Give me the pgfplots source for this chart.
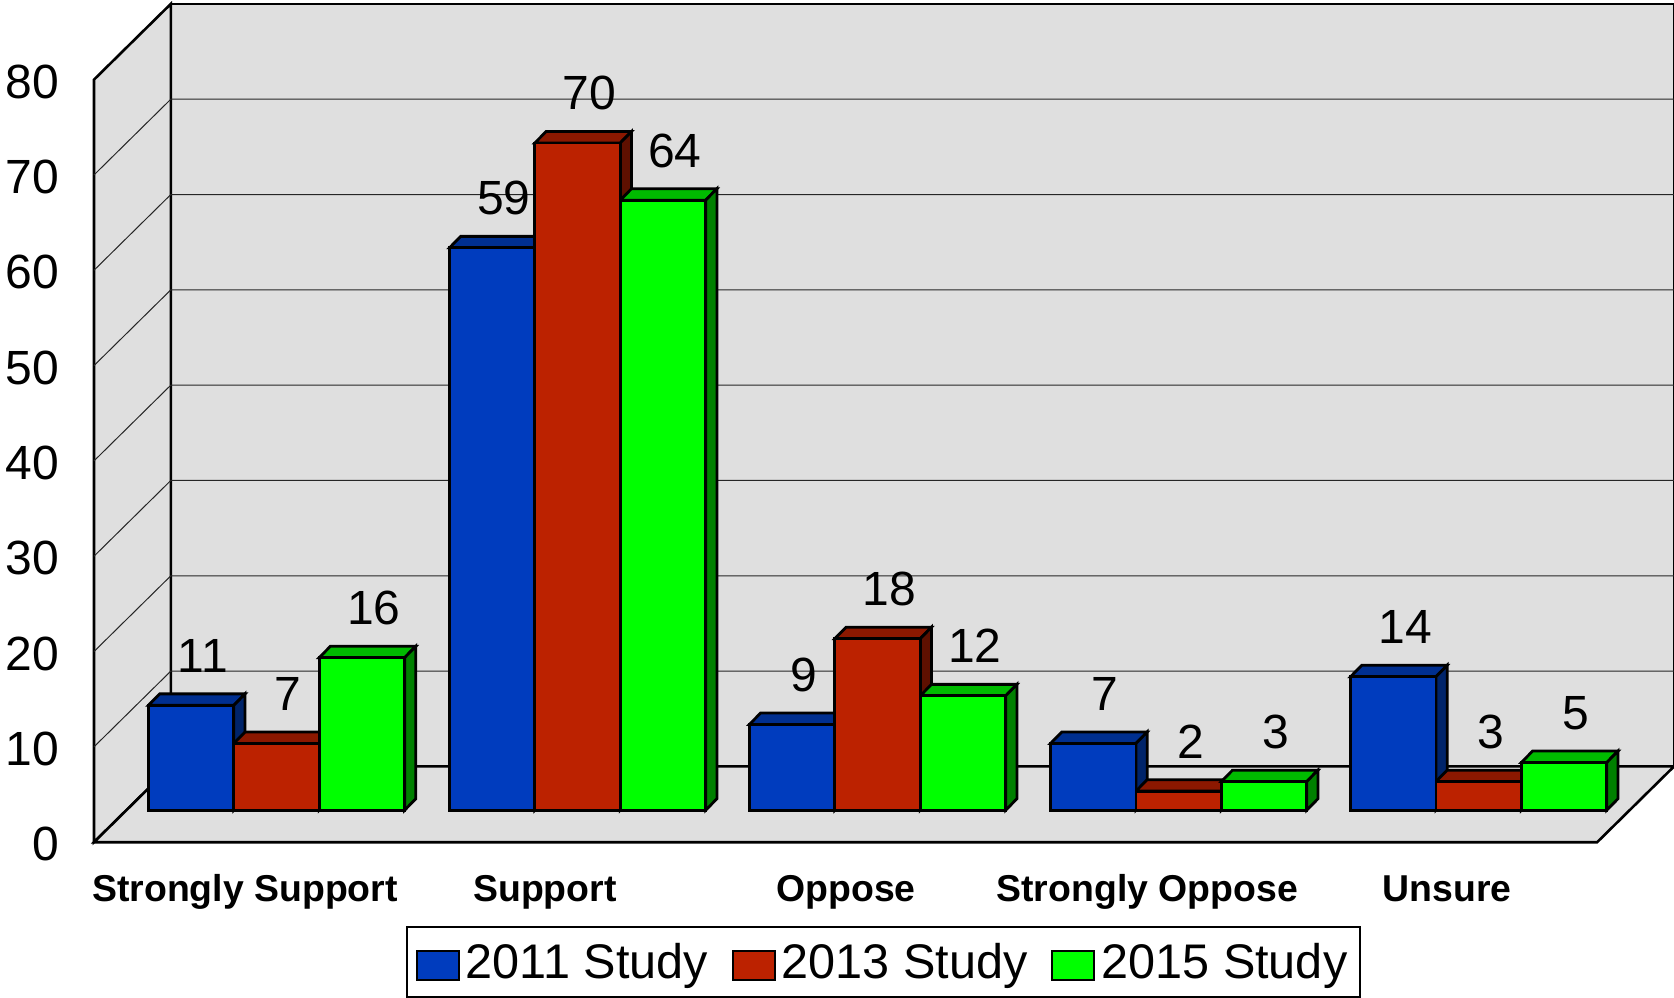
\documentclass[border=0pt]{standalone}
\usepackage{fontspec}
\setmainfont{Liberation Sans}
\usepackage{pgfplots}
\pgfplotsset{compat=1.18}
\definecolor{wallgray}{HTML}{DFDFDF}
\definecolor{bluefront}{HTML}{003CBE}
\definecolor{bluetop}{HTML}{002F90}
\definecolor{blueside}{HTML}{00246A}
\definecolor{redfront}{HTML}{BC2200}
\definecolor{redtop}{HTML}{8C1800}
\definecolor{redside}{HTML}{5E1000}
\definecolor{greenfront}{HTML}{00FF00}
\definecolor{greentop}{HTML}{00BB00}
\definecolor{greenside}{HTML}{008000}
% top and right-hand faces of one bar: left edge, value, name of the colour family
\newcommand\depthfaces[3]{%
  \pgfmathsetmacro\xa{#1}%
  \pgfmathsetmacro\xb{#1+80}%
  \pgfmathsetmacro\xc{#1+10.5}%
  \pgfmathsetmacro\xd{#1+90.5}%
  \pgfmathsetmacro\yb{#2+1.2}%
  \edef\tmp{\noexpand\addplot[forget plot,draw=black,line width=1.4pt,fill=#3top] coordinates {(\xa,#2)(\xc,\yb)(\xd,\yb)(\xb,#2)} -- cycle;
  \noexpand\addplot[forget plot,draw=black,line width=1.4pt,fill=#3side] coordinates {(\xb,0)(\xd,1.2)(\xd,\yb)(\xb,#2)} -- cycle;}%
  \tmp
}
\pgfplotsset{
  frontbar/.style={
    ybar, bar width=80, bar shift=0pt, fill=#1, draw=black, line width=1.4pt,
    nodes near coords,
    every node near coord/.append style={font=\fontsize{24}{25}\selectfont, text=black, anchor=center, xshift=5.9pt, yshift=24.8pt},
    legend image code/.code={\draw[fill=#1,draw=black,line width=1.1pt] (0pt,-9pt) rectangle (21pt,5.4pt);}
  }
}
\begin{document}
\begin{tikzpicture}
\path[use as bounding box] (0,0) rectangle (837pt,498.5pt);
\begin{axis}[
  at={(0,0)}, anchor=south west,
  scale only axis, width=837pt, height=498.5pt,
  xmin=0, xmax=1568, ymin=-19.6, ymax=85,
  clip=false,
  axis line style={draw=none},
  major tick length=0pt,
  /pgf/number format/assume math mode=true,
  xtick={229.5,510.5,792.5,1074.5,1355.5},
  xticklabels={Strongly Support,Support,Oppose,Strongly Oppose,Unsure},
  xticklabel style={font=\fontsize{18.7}{20}\selectfont\bfseries, anchor=base, yshift=48pt},
  ytick={-3.36,6.64,16.64,26.64,36.64,46.64,56.64,66.64,76.64},
  yticklabels={0,10,20,30,40,50,60,70,80},
  yticklabel style={font=\fontsize{24}{25}\selectfont, anchor=east, xshift=33.1pt, yshift=-1pt},
  legend columns=3,
  legend style={at={(axis cs:827.5,-19.7)}, anchor=south, draw=black, line width=1pt, fill=white,
    font=\fontsize{24.3}{26}\selectfont, inner xsep=4.4pt, inner ysep=5.9pt,
    /tikz/every odd column/.append style={column sep=1pt},
    /tikz/every even column/.append style={column sep=9.8pt}},
  legend cell align=left,
]
% walls and floor
\addplot[forget plot,fill=wallgray,draw=black,line width=1.3pt] coordinates {(160,84.59)(1568,84.59)(1568,4.59)(160,4.59)} -- cycle;
\addplot[forget plot,fill=wallgray,draw=black,line width=1.3pt] coordinates {(88,76.64)(160,84.59)(160,4.59)(88,-3.36)} -- cycle;
\addplot[forget plot,fill=wallgray,draw=black,line width=1.3pt] coordinates {(160,4.59)(1568,4.59)(1496,-3.36)(88,-3.36)} -- cycle;
% gridlines on the back wall and the left wall
\addplot[forget plot,draw=black!85,line width=0.5pt] coordinates {(88,6.64)(160,14.59)(1568,14.59)};
\addplot[forget plot,draw=black!85,line width=0.5pt] coordinates {(88,16.64)(160,24.59)(1568,24.59)};
\addplot[forget plot,draw=black!85,line width=0.5pt] coordinates {(88,26.64)(160,34.59)(1568,34.59)};
\addplot[forget plot,draw=black!85,line width=0.5pt] coordinates {(88,36.64)(160,44.59)(1568,44.59)};
\addplot[forget plot,draw=black!85,line width=0.5pt] coordinates {(88,46.64)(160,54.59)(1568,54.59)};
\addplot[forget plot,draw=black!85,line width=0.5pt] coordinates {(88,56.64)(160,64.59)(1568,64.59)};
\addplot[forget plot,draw=black!85,line width=0.5pt] coordinates {(88,66.64)(160,74.59)(1568,74.59)};
% depth faces
\depthfaces{139}{11}{blue}
\depthfaces{219}{7}{red}
\depthfaces{299}{16}{green}
\depthfaces{421}{59}{blue}
\depthfaces{501}{70}{red}
\depthfaces{581}{64}{green}
\depthfaces{702}{9}{blue}
\depthfaces{782}{18}{red}
\depthfaces{862}{12}{green}
\depthfaces{984}{7}{blue}
\depthfaces{1064}{2}{red}
\depthfaces{1144}{3}{green}
\depthfaces{1265}{14}{blue}
\depthfaces{1345}{3}{red}
\depthfaces{1425}{5}{green}
% front faces
\addplot[frontbar=bluefront] coordinates {(179,11)(461,59)(742,9)(1024,7)(1305,14)};
\addlegendentry{2011 Study}
\addplot[frontbar=redfront] coordinates {(259,7)(541,70)(822,18)(1104,2)(1385,3)};
\addlegendentry{2013 Study}
\addplot[frontbar=greenfront] coordinates {(339,16)(621,64)(902,12)(1184,3)(1465,5)};
\addlegendentry{2015 Study}
\end{axis}
\end{tikzpicture}
\end{document}
